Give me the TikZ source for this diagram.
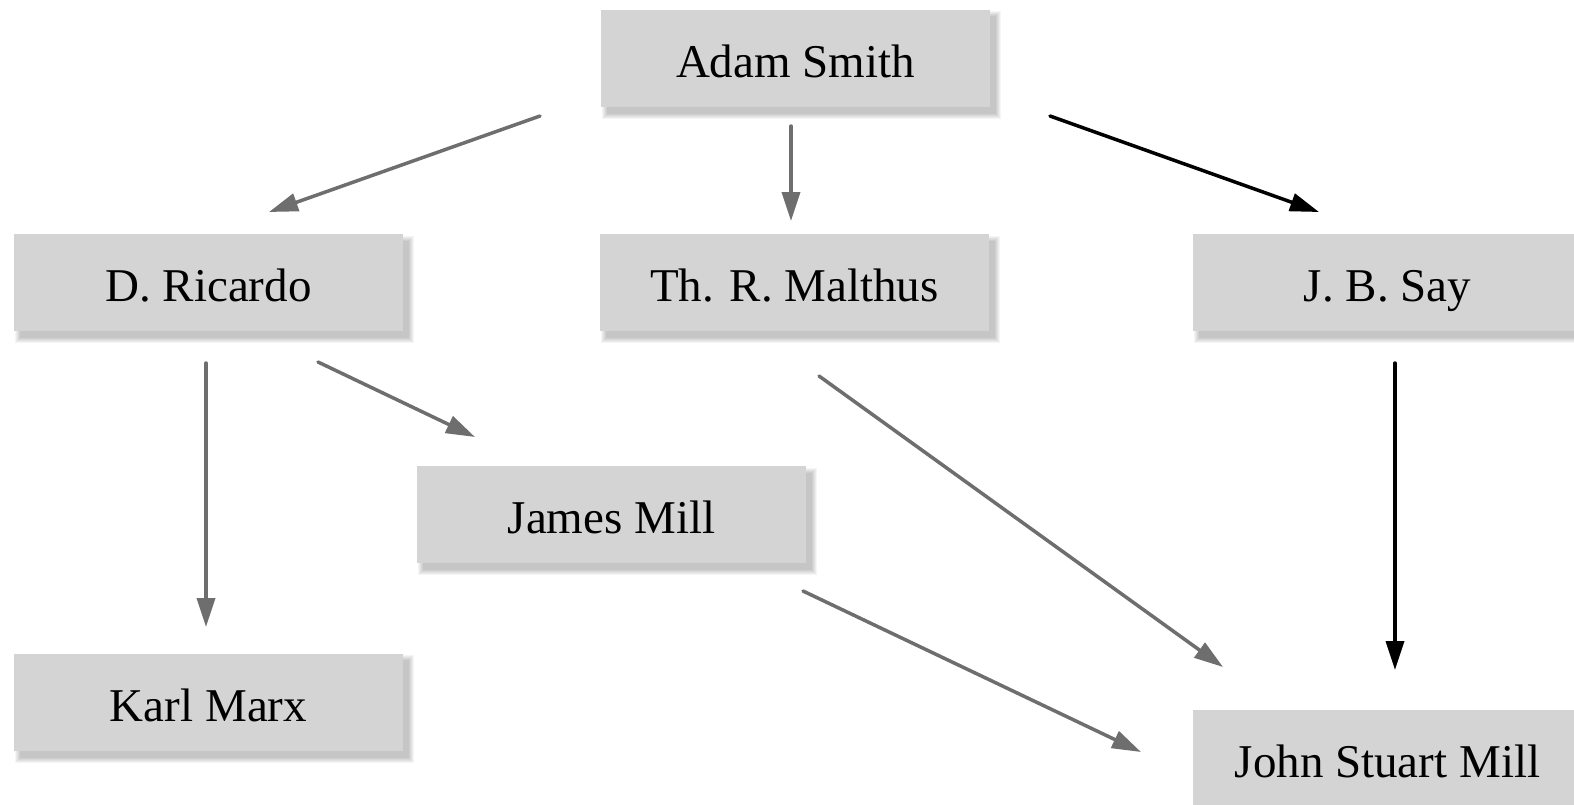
\documentclass[tikz,border=0pt]{standalone}
\usepackage{fontspec}
\setmainfont{Liberation Serif}
\usetikzlibrary{arrows.meta,backgrounds}
\definecolor{boxgray}{HTML}{D4D4D4}
\definecolor{arrgray}{HTML}{6E6E6E}
\begin{document}
\begin{tikzpicture}[x=1pt,y=-1pt,
  person/.style={fill=boxgray, minimum width=389pt, minimum height=97pt, inner sep=0pt,
    font=\fontsize{47}{52}\selectfont, text height=40pt, text depth=2pt},
  shadowlayer/.style={fill=black, opacity=0.04, draw=none},
  grayarrow/.style={draw=arrgray, line width=3.5pt, line cap=round, -{Triangle[length=29pt,width=18pt]}},
  blackarrow/.style={draw=black, line width=3.5pt, line cap=round, -{Triangle[length=29pt,width=18pt]}}]
\useasboundingbox (0,0) rectangle (1574,804);
\node[person] (adam) at (795.5,58) {Adam Smith};
\node[person] (ricardo) at (208.5,282.5) {D. Ricardo};
\node[person] (malthus) at (794.5,282.5) {Th. R. Malthus};
\node[person] (say) at (1387.5,282.5) {J. B. Say};
\node[person] (james) at (611.5,514.5) {James Mill};
\node[person] (marx) at (208.5,702) {Karl Marx};
\node[person] (jsm) at (1387.5,758.5) {John Stuart Mill};
\begin{scope}[on background layer]
\fill[white] (0,0) rectangle (1574,804);
\foreach \n in {adam,ricardo,malthus,say,james,marx,jsm}{
  \foreach \e in {0,1,2,3,4,5}{
    \fill[shadowlayer] ([shift={(6-\e,7-\e)}]\n.north west) rectangle ([shift={(6+\e,7+\e)}]\n.south east);
  }
}
\end{scope}
\draw[grayarrow] ([shift={(-255.5,58)}]adam.center) -- ([shift={(60.5,-70.5)}]ricardo.center);
\draw[grayarrow] ([shift={(-4.5,68)}]adam.center) -- ([shift={(-3.5,-61.5)}]malthus.center);
\draw[blackarrow] ([shift={(254.5,58)}]adam.center) -- ([shift={(-68.5,-70.5)}]say.center);
\draw[grayarrow] ([shift={(-2.5,80.5)}]ricardo.center) -- ([shift={(-2.5,-75)}]marx.center);
\draw[grayarrow] ([shift={(109.5,79.5)}]ricardo.center) -- ([shift={(-136.5,-77.5)}]james.center);
\draw[grayarrow] ([shift={(24.5,93.5)}]malthus.center) -- ([shift={(-164.5,-91.5)}]jsm.center);
\draw[blackarrow] ([shift={(7.5,80.5)}]say.center) -- ([shift={(7.5,-88.5)}]jsm.center);
\draw[grayarrow] ([shift={(191.5,76.5)}]james.center) -- ([shift={(-246.5,-6.5)}]jsm.center);
\end{tikzpicture}
\end{document}
